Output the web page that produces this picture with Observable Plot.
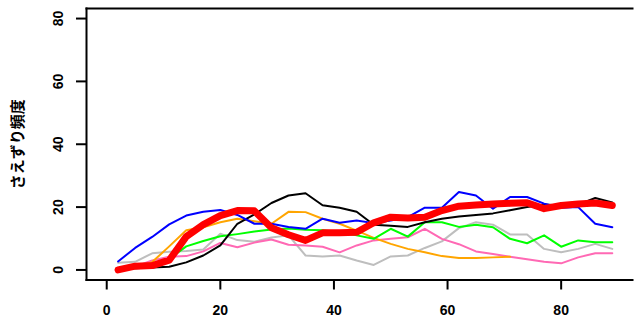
<!DOCTYPE html>
<html>
<head>
<meta charset="utf-8">
<script src="https://cdn.jsdelivr.net/npm/d3@7"></script>
<script src="https://cdn.jsdelivr.net/npm/@observablehq/plot@0.6"></script>
<style>
  html, body { margin: 0; padding: 0; background: #fff; }
  #chart svg { display: block; }
</style>
</head>
<body>
<div id="chart"></div>
<script>
const xs = [2, 5, 8, 11, 14, 17, 20, 23, 26, 29, 32, 35, 38, 41, 44, 47, 50, 53, 56, 59, 62, 65, 68, 71, 74, 77, 80, 83, 86, 89];

const blackVals  = [0.3, 0.5, 0.8, 1.0, 2.4, 4.6, 7.8, 14.7, 17.7, 21.3, 23.7, 24.4, 20.6, 19.8, 18.5, 14.4, 14.1, 13.7, 15.2, 16.3, 17.0, 17.5, 18.0, 19.0, 20.0, 20.8, 20.5, 20.8, 22.9, 21.5];
const blueVals   = [2.7, 7.0, 10.5, 14.5, 17.3, 18.5, 19.1, 17.5, 14.7, 14.7, 13.7, 13.1, 16.3, 15.0, 15.7, 14.9, 15.7, 16.8, 19.8, 19.8, 24.8, 23.7, 19.5, 23.2, 23.2, 21.1, 19.8, 20.0, 14.7, 13.6];
const orangeVals = [0.3, 0.8, 2.5, 7.5, 12.6, 13.6, 15.2, 16.3, 15.5, 14.7, 18.5, 18.4, 16.3, 14.7, 12.5, 10.2, 8.3, 6.7, 5.6, 4.4, 3.8, 3.8, 4.0, 4.2, null, null, null, null, null, null];
const greenVals  = [0.5, 1.0, 2.0, 3.5, 7.5, 9.2, 10.7, 11.4, 12.2, 12.9, 13.2, 12.8, 12.6, 12.0, 11.0, 9.9, 13.1, 10.6, 15.2, 15.2, 13.7, 14.4, 13.6, 9.9, 8.5, 11.0, 7.4, 9.4, 8.8, 8.8];
const grayVals   = [2.3, 2.6, 5.3, 5.8, 6.0, 6.5, 11.5, 9.5, 9.0, 10.3, 11.0, 4.6, 4.3, 4.6, 3.0, 1.6, 4.3, 4.6, 7.0, 9.1, 13.3, 15.2, 14.4, 11.3, 11.3, 6.7, 5.6, 6.7, 8.3, 6.7];
const pinkVals   = [0.5, 1.0, 3.0, 4.2, 4.4, 5.9, 8.6, 7.2, 8.7, 9.7, 8.0, 7.8, 7.4, 5.6, 7.8, 9.4, 9.9, 10.4, 13.1, 9.9, 8.2, 5.9, 5.1, 4.2, 3.4, 2.6, 2.1, 4.0, 5.3, 5.3];
const redVals    = [0.0, 1.2, 1.4, 3.1, 10.6, 14.4, 17.3, 18.9, 18.8, 13.4, 11.2, 9.4, 11.8, 11.8, 12.0, 15.0, 16.8, 16.5, 16.8, 18.9, 20.3, 20.7, 21.0, 21.2, 21.4, 19.5, 20.5, 21.0, 21.3, 20.5];

const xTicks = [0, 20, 40, 60, 80];
const yTicks = [0, 20, 40, 60, 80];
const yTitle = "さえずり頻度";

const thinSeries = [
  {vals: grayVals, color: "#bebebe"},
  {vals: pinkVals, color: "#ff69b4"},
  {vals: orangeVals, color: "#ffa500"},
  {vals: greenVals, color: "#00ff00"},
  {vals: blackVals, color: "#000000"},
  {vals: blueVals, color: "#0000ff"}
];

const toRows = (vals) => xs.map((x, i) => ({x, y: vals[i]}));

const font = "'Liberation Sans', Arial, 'Noto Sans CJK JP', sans-serif";

const marks = [];
for (const s of thinSeries) {
  marks.push(Plot.line(toRows(s.vals), {x: "x", y: "y", stroke: s.color, strokeWidth: 2, strokeLinejoin: "round", strokeLinecap: "round"}));
}
marks.push(Plot.line(toRows(redVals), {x: "x", y: "y", stroke: "#ff0000", strokeWidth: 7, strokeLinejoin: "round", strokeLinecap: "round"}));

marks.push(Plot.frame({anchor: "left", strokeWidth: 2}));
marks.push(Plot.frame({anchor: "top", strokeWidth: 2}));
marks.push(Plot.frame({anchor: "bottom", strokeWidth: 2}));
marks.push(Plot.axisX({ticks: xTicks, anchor: "bottom", tickSize: 10, strokeWidth: 2, fill: "none", label: null}));
marks.push(Plot.axisY({ticks: yTicks, anchor: "left", tickSize: 10, strokeWidth: 2, fill: "none", label: null}));
marks.push(Plot.text(xTicks, {x: d => d, text: d => String(d), frameAnchor: "bottom", dy: 31, lineAnchor: "middle", fontSize: 14, fontWeight: "bold", fill: "black"}));
marks.push(Plot.text(yTicks, {y: d => d, text: d => String(d), frameAnchor: "left", dx: -28, rotate: -90, textAnchor: "middle", lineAnchor: "middle", fontSize: 14, fontWeight: "bold", fill: "black"}));
marks.push(Plot.text([yTitle], {text: d => d, frameAnchor: "left", dx: -68, rotate: -90, textAnchor: "middle", lineAnchor: "middle", fontSize: 15, fontWeight: "bold", fill: "black"}));

const chart = Plot.plot({
  width: 634,
  height: 319,
  marginLeft: 86,
  marginRight: 2,
  marginTop: 8,
  marginBottom: 39.5,
  style: {fontFamily: font, background: "white", color: "black"},
  x: {domain: [-3.56, 92.56]},
  y: {domain: [-3.2, 83.2]},
  marks
});
document.getElementById("chart").appendChild(chart);
</script>
</body>
</html>
